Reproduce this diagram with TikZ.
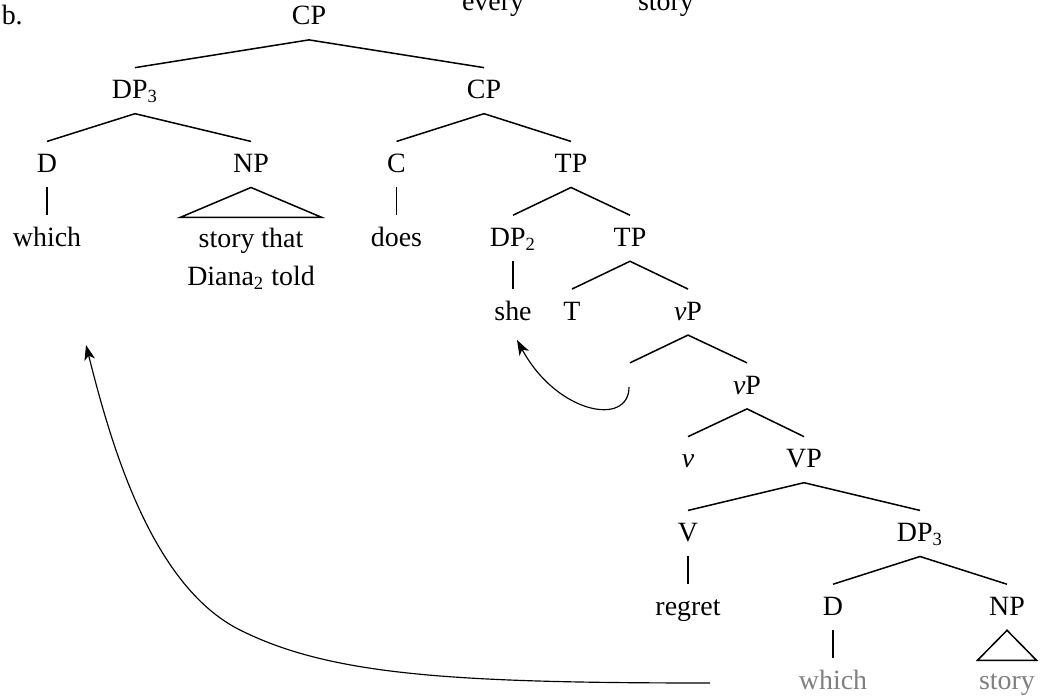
\documentclass[tikz,border=0pt]{standalone}
\usepackage{fontspec}
\setmainfont{Liberation Serif}
\usetikzlibrary{arrows.meta}
\tikzstyle{lab}=[anchor=base, inner xsep=1pt, inner ysep=3.2pt, text height=10pt, text depth=3pt]
\tikzstyle{phrase}=[align=center, anchor=north, inner sep=0pt]
\tikzstyle{silent}=[text=black!50]
\tikzstyle{branch}=[line width=0.65pt]
\tikzstyle{move}=[line width=0.5pt, -{Stealth[length=6.5pt,width=4.6pt,inset=1.8pt]}]
\newcommand{\roof}[2]
{
  \draw[branch] (#1.south) -- ++(-#2,30) -- ++(2*#2,0) -- cycle;
}

\begin{document}
\begin{tikzpicture}[x=0.43pt, y=-0.43pt, font=\fontsize{12pt}{16pt}\selectfont]
	\useasboundingbox (0,0) rectangle (1046,699);
	\clip (0,0) rectangle (1046,699);

	% end of the tree above
	\node[lab] (prevevery) at (493,11) {every};
	\node[lab] (prevstory) at (666,11) {story};

	\node[lab, anchor=base west] (ex) at (-1,25) {b.};
	\node[lab] (cpa) at (309,25) {CP};

	\node[lab] (dpa) at (135,98.8) {DP\textsubscript{3}};
	\node[lab] (cpb) at (484,98.8) {CP};

	\node[lab] (da) at (47,172.6) {D};
	\node[lab] (npa) at (251,172.6) {NP};
	\node[lab] (c) at (396.5,172.6) {C};
	\node[lab] (tpa) at (571,172.6) {TP};

	\node[lab] (whicha) at (47,246.4) {which};
	\node[phrase] (storya) at (251,228) {story that\\Diana\textsubscript{2} told};
	\node[lab] (does) at (396.5,246.4) {does};
	\node[lab] (dpb) at (513,246.4) {DP\textsubscript{2}};
	\node[lab] (tpb) at (630,246.4) {TP};

	\node[lab] (she) at (513,320.2) {she};
	\node[lab] (t) at (572,320.2) {T};
	\node[lab] (vpa) at (688,320.2) {\textit{v}P};

	\node[lab] (gap) at (630,394) {};
	\node[lab] (vpb) at (747,394) {\textit{v}P};

	\node[lab] (v) at (688,467.8) {\textit{v}};
	\node[lab] (vp) at (804,467.8) {VP};

	\node[lab] (verb) at (688,541.6) {V};
	\node[lab] (dpc) at (920,541.6) {DP\textsubscript{3}};

	\node[lab] (regret) at (688,615.4) {regret};
	\node[lab] (db) at (833,615.4) {D};
	\node[lab] (npb) at (1007,615.4) {NP};

	\node[lab, silent] (whichb) at (833,689.2) {which};
	\node[lab, silent] (storyb) at (1007,689.2) {story};

	% branches
	\draw[branch] (dpa.north) -- (cpa.south) -- (cpb.north);
	\draw[branch] (da.north) -- (dpa.south) -- (npa.north);
	\draw[branch] (c.north) -- (cpb.south) -- (tpa.north);
	\draw[branch] (dpb.north) -- (tpa.south) -- (tpb.north);
	\draw[branch] (t.north) -- (tpb.south) -- (vpa.north);
	\draw[branch] (gap.north) -- (vpa.south) -- (vpb.north);
	\draw[branch] (v.north) -- (vpb.south) -- (vp.north);
	\draw[branch] (verb.north) -- (vp.south) -- (dpc.north);
	\draw[branch] (db.north) -- (dpc.south) -- (npb.north);

	\draw[branch] (da.south) -- (whicha.north);
	\draw[branch] (c.south) -- (does.north);
	\draw[branch] (dpb.south) -- (she.north);
	\draw[branch] (verb.south) -- (regret.north);
	\draw[branch] (db.south) -- (whichb.north);

	\roof{npa}{71}
	\roof{npb}{29.5}

	% movement
	\coordinate (gapfoot) at (629,387);
	\coordinate (shefoot) at (517,340);
	\coordinate (dbfoot) at (710,683);
	\coordinate (whichfoot) at (86,345);
	\draw[move] (gapfoot) .. controls (629,427) and (557,414) .. (shefoot);
	\draw[move] (dbfoot) .. controls (450,683) and (330,675) .. (240,630) .. controls (150,585) and (110,440) .. (whichfoot);

\end{tikzpicture}
\end{document}
